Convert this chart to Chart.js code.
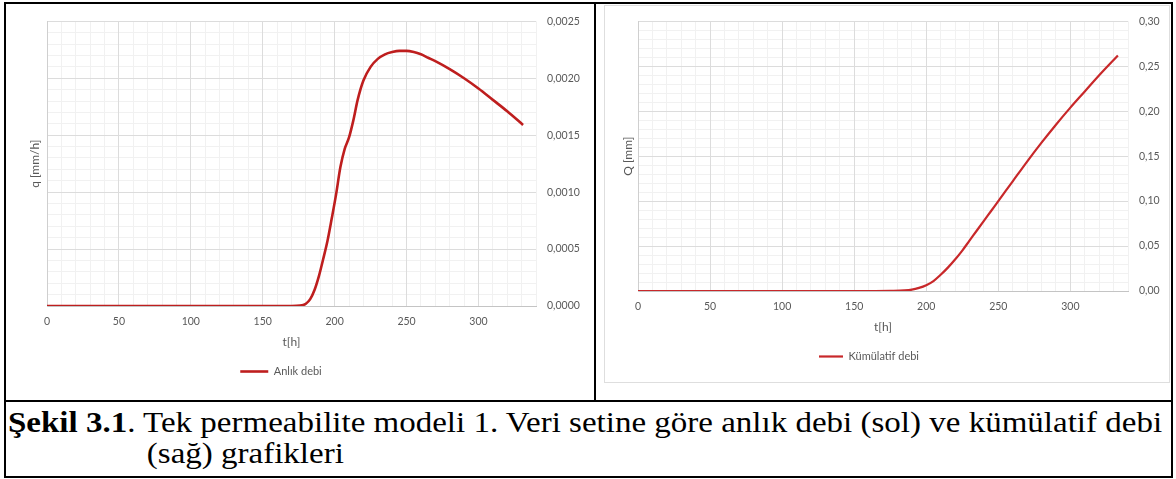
<!DOCTYPE html>
<html>
<head>
<meta charset="utf-8">
<script src="https://cdn.jsdelivr.net/npm/chart.js"></script>
<style>
  html, body { margin:0; padding:0; background:#fff; }
  #page { position:relative; width:1176px; height:479px; overflow:hidden; background:#fff; }
  .ln { position:absolute; background:#000; }
  canvas { position:absolute; }
  #frameR { position:absolute; left:604px; top:5px; width:564px; height:376px; border:1px solid #dedede; }
  #caption { position:absolute; left:8px; top:407px; font-family:"Liberation Serif","Times New Roman",serif;
             font-size:29px; line-height:31px; color:#000; white-space:nowrap;
             transform:scaleX(1.138); transform-origin:0 0; }
  #caption .l2 { padding-left:122px; }
</style>
</head>
<body>
<div id="page">
  <div id="frameR"></div>
  <canvas id="chartAnlik" width="588" height="383" style="left:6px;top:4px"></canvas>
  <canvas id="chartKum" width="572" height="368" style="left:598px;top:4px"></canvas>

  <div class="ln" style="left:4px;top:2px;width:1169px;height:2px"></div>
  <div class="ln" style="left:4px;top:2px;width:2px;height:476px"></div>
  <div class="ln" style="left:1171px;top:2px;width:2px;height:476px"></div>
  <div class="ln" style="left:594px;top:2px;width:2px;height:400px"></div>
  <div class="ln" style="left:4px;top:400px;width:1169px;height:2px"></div>
  <div class="ln" style="left:4px;top:476px;width:1169px;height:2px"></div>

  <div id="caption"><b>Şekil 3.1</b>. Tek permeabilite modeli 1. Veri setine göre anlık debi (sol) ve kümülatif debi<br><span class="l2">(sağ) grafikleri</span></div>
</div>

<script>
// anlık debi q [mm/h] vs t[h]
var tAnlik = [0, 50, 100, 150, 170, 176, 180, 183, 186, 189, 192, 195, 198, 201, 204, 207, 210, 213, 216, 220,
              225, 230, 235, 240, 245, 250, 255, 260, 265, 270, 280, 290, 300, 310, 320, 331];
var qAnlik = [0, 0, 0, 0, 0, 0.000003, 0.00002, 0.00006, 0.00014, 0.00026, 0.00041, 0.00057, 0.00077, 0.00098,
              0.00122, 0.00138, 0.00148, 0.00163, 0.00181, 0.00198, 0.00210, 0.00217, 0.00221, 0.00223, 0.00224,
              0.00224, 0.00223, 0.00221, 0.00218, 0.00215, 0.00208, 0.00200, 0.00191, 0.00181, 0.00171, 0.00159];

// kümülatif debi Q [mm] vs t[h]
var tKum = [0, 50, 100, 150, 175, 185, 190, 195, 200, 205, 210, 215, 220, 225, 230, 235, 240, 245, 250,
            260, 270, 280, 290, 300, 310, 320, 333];
var QKum = [0, 0, 0, 0, 0.0002, 0.0006, 0.0015, 0.0035, 0.0065, 0.011, 0.018, 0.026, 0.035, 0.045, 0.056,
            0.067, 0.078, 0.089, 0.100, 0.122, 0.144, 0.165, 0.185, 0.204, 0.222, 0.240, 0.262];

var xTicks = [0, 50, 100, 150, 200, 250, 300];
var qTicks = [0, 0.0005, 0.0010, 0.0015, 0.0020, 0.0025];
var QTicks = [0, 0.05, 0.10, 0.15, 0.20, 0.25, 0.30];

var grey = '#595959';
var fontFam = 'Lato, "Open Sans", sans-serif';

// excel puts the legend a bit left of centre
var legendShift = {
  id: 'legendShift',
  afterLayout: function(chart, args, opts) {
    var d = opts.dx || 0;
    chart.legend.left += d;
    chart.legend.right += d;
  }
};

function setTicks(vals) {
  return function(scale) {
    scale.ticks = vals.map(function(v) { return { value: v }; });
  };
}

function makeChart(id, t, vals, c) {
  var pts = t.map(function(x, i) { return { x: x, y: vals[i] }; });
  return new Chart(document.getElementById(id), {
    type: 'line',
    data: {
      datasets: [{
        label: c.label,
        data: pts,
        borderColor: c.color,
        backgroundColor: c.color,
        borderWidth: c.lw,
        pointRadius: 0,
        cubicInterpolationMode: 'monotone',
        xAxisID: 'x',
        yAxisID: 'y'
      }]
    },
    options: {
      responsive: false,
      animation: false,
      devicePixelRatio: 1,
      layout: { padding: { top: c.top, left: 0, right: 0, bottom: 0 } },
      plugins: {
        tooltip: { enabled: false },
        legendShift: { dx: c.legendDx },
        legend: {
          position: 'bottom',
          labels: {
            usePointStyle: true,
            pointStyle: 'line',
            pointStyleWidth: c.legendLine,
            padding: 10,
            color: grey,
            font: { family: fontFam, size: 11 }
          }
        }
      },
      scales: {
        xMinor: {
          type: 'linear', min: 0, max: 340, position: 'bottom', z: -1,
          ticks: { display: false, stepSize: 10, maxTicksLimit: 100 },
          grid: { color: '#f1f1f1', drawTicks: false },
          border: { display: false },
          afterFit: function(s) { s.height = 0; }
        },
        yMinor: {
          type: 'linear', min: 0, max: c.yMax, position: 'right', z: -1,
          ticks: { display: false, stepSize: c.yMinorStep, maxTicksLimit: 100 },
          grid: { color: '#f1f1f1', drawTicks: false },
          border: { display: false },
          afterFit: function(s) { s.width = 0; }
        },
        x: {
          type: 'linear', min: 0, max: 340, position: 'bottom',
          afterBuildTicks: setTicks(xTicks),
          ticks: { color: grey, padding: 9, font: { family: fontFam, size: 10.5 } },
          grid: { color: '#dcdcdc', drawTicks: false },
          border: { display: true, color: '#c4c4c4' },
          title: { display: true, text: 't[h]', color: grey, padding: { top: 0, bottom: 7 },
                   font: { family: fontFam, size: 12 } },
          afterFit: function(s) { s.height = 50; }
        },
        yTitle: {
          type: 'linear', position: 'left',
          ticks: { display: false },
          grid: { display: false, drawTicks: false },
          border: { display: true, color: '#cfcfcf' },
          title: { display: true, text: c.yTitle, color: grey, padding: { top: c.yTitlePad, bottom: 0 },
                   font: { family: fontFam, size: 12 } },
          afterFit: function(s) { s.width = c.leftW; }
        },
        y: {
          type: 'linear', min: 0, max: c.yMax, position: 'right',
          afterBuildTicks: setTicks(c.yTicks),
          ticks: {
            color: grey, padding: 11, font: { family: fontFam, size: 10.5 },
            callback: function(v) { return v.toFixed(c.dec).replace('.', ','); }
          },
          grid: { color: '#dcdcdc', drawTicks: false },
          border: { display: false },
          afterFit: function(s) { s.width = c.rightW; }
        }
      }
    },
    plugins: [legendShift]
  });
}

makeChart('chartAnlik', tAnlik, qAnlik, {
  label: 'Anlık debi', color: '#BE1E1E', lw: 2.6, legendLine: 28, legendDx: -19,
  top: 13, leftW: 41, rightW: 58, yMax: 0.0025, yMinorStep: 0.0001, yTicks: qTicks, dec: 4,
  yTitle: 'q [mm/h]', yTitlePad: 22
});

makeChart('chartKum', tKum, QKum, {
  label: 'Kümülatif debi', color: '#C8282A', lw: 2.2, legendLine: 24, legendDx: -15,
  top: 11, leftW: 40, rightW: 42, yMax: 0.30, yMinorStep: 0.01, yTicks: QTicks, dec: 2,
  yTitle: 'Q [mm]', yTitlePad: 23
});
</script>
</body>
</html>
